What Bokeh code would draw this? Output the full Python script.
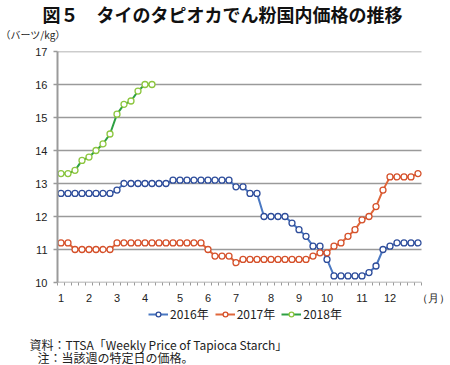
from bokeh.plotting import figure
from bokeh.layouts import column
from bokeh.models import Range1d, FixedTicker, Label, Legend, LegendItem
from bokeh.embed import file_html
from bokeh.resources import INLINE

# ---- data ----
weeks = list(range(1, 53))
price_2016 = [12.7, 12.7, 12.7, 12.7, 12.7, 12.7, 12.7, 12.7, 12.8, 13.0,
              13.0, 13.0, 13.0, 13.0, 13.0, 13.0, 13.1, 13.1, 13.1, 13.1,
              13.1, 13.1, 13.1, 13.1, 13.1, 12.9, 12.9, 12.7, 12.7, 12.0,
              12.0, 12.0, 12.0, 11.8, 11.6, 11.4, 11.1, 11.1, 10.7, 10.2,
              10.2, 10.2, 10.2, 10.2, 10.3, 10.5, 11.0, 11.1, 11.2, 11.2,
              11.2, 11.2]
price_2017 = [11.2, 11.2, 11.0, 11.0, 11.0, 11.0, 11.0, 11.0, 11.2, 11.2,
              11.2, 11.2, 11.2, 11.2, 11.2, 11.2, 11.2, 11.2, 11.2, 11.2,
              11.2, 11.0, 10.8, 10.8, 10.8, 10.6, 10.7, 10.7, 10.7, 10.7,
              10.7, 10.7, 10.7, 10.7, 10.7, 10.7, 10.8, 10.9, 10.9, 11.1,
              11.2, 11.4, 11.6, 11.9, 12.0, 12.3, 12.8, 13.2, 13.2, 13.2,
              13.2, 13.3]
weeks_2018 = list(range(1, 15))
price_2018 = [13.3, 13.3, 13.4, 13.7, 13.8, 14.0, 14.2, 14.5, 15.1, 15.4,
              15.5, 15.8, 16.0, 16.0]
month_weeks = [1, 5, 9, 13, 18, 22, 26, 31, 35, 39, 44, 48]
month_labels = ["1", "2", "3", "4", "5", "6", "7", "8", "9", "10", "11", "12"]
y_ticks = [10, 11, 12, 13, 14, 15, 16, 17]
series_names = ["2016年", "2017年", "2018年"]

title_text = "図５　タイのタピオカでん粉国内価格の推移"
unit_text = "（バーツ/kg）"
month_unit = "（月）"
note1 = "資料：TTSA「Weekly Price of Tapioca Starch」"
note2 = "注：当該週の特定日の価格。"

# ---- layout constants (page pixels) ----
W = 450
HEAD_H, MAIN_H, FOOT_H = 44, 262, 59
LEFT, TOP_B = 57, 7
FRAME_H = 233
X0, X_END = 0.5, 52.5
X1 = X0 + (W - LEFT) / 7.0
MONTH_UNIT_TICK = 54.2
Y0, Y1 = 10, 17

GRAY = "#9a9a9a"
TXT = "#222222"
tick_font = "Liberation Sans"
jp_font = "Noto Sans CJK JP"
styles = [
    (weeks, price_2016, "#4a78c2", "#2e4d9b"),
    (weeks, price_2017, "#e0673a", "#d5512b"),
    (weeks_2018, price_2018, "#2ea043", "#8dc63f"),
]

def bare(h):
    f = figure(width=W, height=h, x_range=Range1d(0, W), y_range=Range1d(h, 0),
               output_backend="svg", toolbar_location=None,
               x_axis_location=None, y_axis_location=None, title_location=None,
               min_border=0, min_border_left=0, min_border_right=0,
               min_border_top=0, min_border_bottom=0)
    f.frame_align = False
    f.outline_line_color = None
    f.grid.visible = False
    f.background_fill_color = "white"
    f.border_fill_color = "white"
    return f

# ---- header ----
head = bare(HEAD_H)
head.add_layout(Label(x=222, y=13, text=title_text, text_font=jp_font,
                      text_font_size="18px", text_font_style="bold",
                      text_align="center", text_baseline="middle", text_color="#111111"))
head.add_layout(Label(x=0, y=34, text=unit_text, text_font=jp_font,
                      text_font_size="10px", text_align="left", text_baseline="middle",
                      text_color=TXT))

# ---- main chart ----
p = figure(width=W, height=MAIN_H, x_range=Range1d(X0, X1), y_range=Range1d(Y0, Y1),
           output_backend="svg", toolbar_location=None, title_location=None,
           min_border_left=LEFT, min_border_right=0,
           min_border_top=TOP_B, min_border_bottom=MAIN_H - TOP_B - FRAME_H)
p.frame_align = False
p.outline_line_color = None
p.background_fill_color = "white"
p.border_fill_color = "white"
p.grid.visible = False

# horizontal grid lines (the one at 10 doubles as the x axis line)
p.segment(x0=X0, y0=y_ticks, x1=X_END, y1=y_ticks, line_color=GRAY, line_width=1.6)

p.yaxis.ticker = FixedTicker(ticks=y_ticks)
p.yaxis.axis_line_color = GRAY
p.yaxis.axis_line_width = 2
p.yaxis.major_tick_line_color = GRAY
p.yaxis.major_tick_line_width = 1.5
p.yaxis.major_tick_out = 4
p.yaxis.major_tick_in = 0
p.yaxis.minor_tick_line_color = None
p.yaxis.major_label_standoff = 6
p.yaxis.major_label_text_font = tick_font
p.yaxis.major_label_text_font_size = "11px"
p.yaxis.major_label_text_color = TXT

p.xaxis.ticker = FixedTicker(ticks=month_weeks + [MONTH_UNIT_TICK],
                             minor_ticks=[w - 0.5 for w in range(1, 54)])
overrides = {w: m for w, m in zip(month_weeks, month_labels)}
overrides[MONTH_UNIT_TICK] = month_unit
p.xaxis.major_label_overrides = overrides
p.xaxis.axis_line_color = None
p.xaxis.major_tick_out = 0
p.xaxis.major_tick_in = 0
p.xaxis.minor_tick_out = 3
p.xaxis.minor_tick_in = 0
p.xaxis.minor_tick_line_color = GRAY
p.xaxis.minor_tick_line_width = 1
p.xaxis.major_label_standoff = 6
p.xaxis.major_label_text_font = tick_font
p.xaxis.major_label_text_font_size = "11px"
p.xaxis.major_label_text_color = TXT

for xs, ys, lc, mc in styles:
    p.line(xs, ys, line_color=lc, line_width=2)
    p.scatter(xs, ys, marker="circle", size=6, fill_color="white",
              line_color=mc, line_width=1.3)

# ---- footer: legend + notes ----
foot = bare(FOOT_H)
items = []
for name, (xs, ys, lc, mc) in zip(series_names, styles):
    rl = foot.line(xs, ys, line_color=lc, line_width=2, visible=False)
    rm = foot.scatter(xs, ys, marker="circle", size=6, fill_color="white",
                      line_color=mc, line_width=1.3, visible=False)
    items.append(LegendItem(label=name, renderers=[rl, rm]))
legend = Legend(items=items, orientation="horizontal", location=(148, FOOT_H - 16),
                margin=0, padding=2, spacing=6, glyph_width=20, glyph_height=12,
                label_height=14, label_standoff=2, label_text_font=jp_font,
                label_text_font_size="12px", label_text_color=TXT,
                border_line_color=None, background_fill_alpha=0,
                inactive_fill_alpha=0)
foot.add_layout(legend)
foot.add_layout(Label(x=29, y=38, text=note1, text_font=jp_font,
                      text_font_size="12px", text_align="left", text_baseline="middle",
                      text_color=TXT))
foot.add_layout(Label(x=37, y=51, text=note2, text_font=jp_font,
                      text_font_size="12px", text_align="left", text_baseline="middle",
                      text_color=TXT))

page = column(head, p, foot, spacing=0)
open("out.html", "w").write(file_html(page, INLINE))
